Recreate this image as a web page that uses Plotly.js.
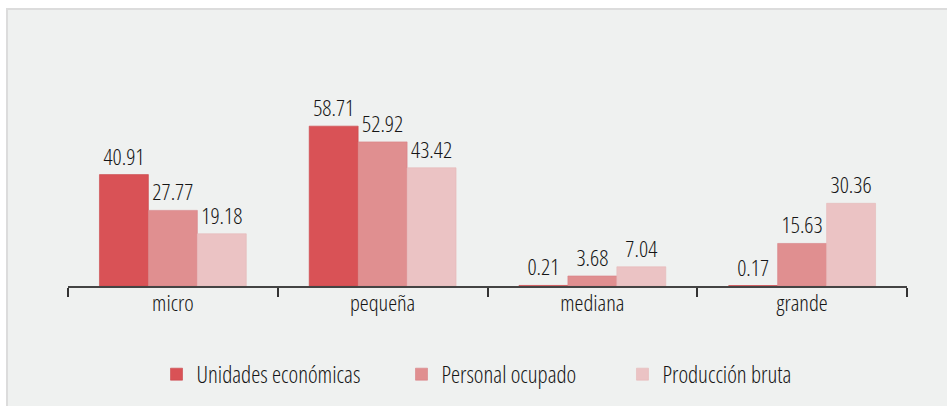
<!DOCTYPE html>
<html>
<head>
<meta charset="utf-8">
<script src="https://cdn.plot.ly/plotly-3.0.1.min.js"></script>
<style>
  html, body { margin: 0; padding: 0; background: #ffffff; }
  text { font-stretch: condensed !important; font-weight: 350 !important; }
  #frame { position: absolute; left: 6px; top: 8px; width: 939px; height: 396px;
           border-left: 2px solid #dcdcdc; border-top: 2px solid #dcdcdc; background: #eff1f0; }
  #chart { width: 939px; height: 396px; }
</style>
</head>
<body>
<div id="frame"><div id="chart"></div></div>
<script>
const categories = ["micro", "pequeña", "mediana", "grande"];
const seriesNames = ["Unidades económicas", "Personal ocupado", "Producción bruta"];
const unidadesEconomicas = [40.91, 58.71, 0.21, 0.17];
const personalOcupado = [27.77, 52.92, 3.68, 15.63];
const produccionBruta = [19.18, 43.42, 7.04, 30.36];

const colors = ["#d95256", "#e08f90", "#ebc3c4"];
const lineColors = ["#c9464a", "#d98084", "#e6b8b9"];
const legendIds = ["legend", "legend2", "legend3"];
const FONT = "Open Sans";
const TXT = "#151515";

const allValues = [unidadesEconomicas, personalOcupado, produccionBruta];
const traces = allValues.map((vals, i) => ({
  type: "bar",
  name: seriesNames[i],
  legend: legendIds[i],
  x: categories,
  y: vals,
  text: vals.map(v => v.toFixed(2)),
  textposition: "outside",
  cliponaxis: false,
  textfont: { family: FONT, size: 22.5, color: TXT },
  marker: { color: colors[i], line: { color: lineColors[i], width: 0.6 } },
  hoverinfo: "x+y"
}));

function legendAt(x) {
  return {
    orientation: "h",
    x: x,
    xanchor: "left",
    y: -0.49,
    yanchor: "middle",
    bgcolor: "rgba(0,0,0,0)",
    font: { family: FONT, size: 23, color: TXT },
    itemclick: false,
    itemdoubleclick: false
  };
}

const layout = {
  width: 939,
  height: 396,
  paper_bgcolor: "#eff1f0",
  plot_bgcolor: "#eff1f0",
  margin: { l: 60, r: 40, t: 99, b: 119 },
  barmode: "group",
  bargap: 0.3,
  bargroupgap: 0,
  showlegend: true,
  font: { family: FONT, size: 22.5, color: TXT },
  xaxis: {
    type: "category",
    showline: true,
    linecolor: "#444444",
    linewidth: 2,
    ticks: "outside",
    tickson: "boundaries",
    ticklen: 9,
    tickwidth: 2,
    tickcolor: "#333333",
    showgrid: false,
    zeroline: false,
    ticklabelstandoff: -4,
    tickfont: { family: FONT, size: 22.5, color: TXT }
  },
  yaxis: {
    range: [0, 65],
    visible: false,
    showgrid: false,
    zeroline: false
  },
  legend: legendAt(0.1055),
  legend2: legendAt(0.3975),
  legend3: legendAt(0.6609)
};

Plotly.newPlot("chart", traces, layout, { displayModeBar: false, staticPlot: true });
</script>
</body>
</html>
